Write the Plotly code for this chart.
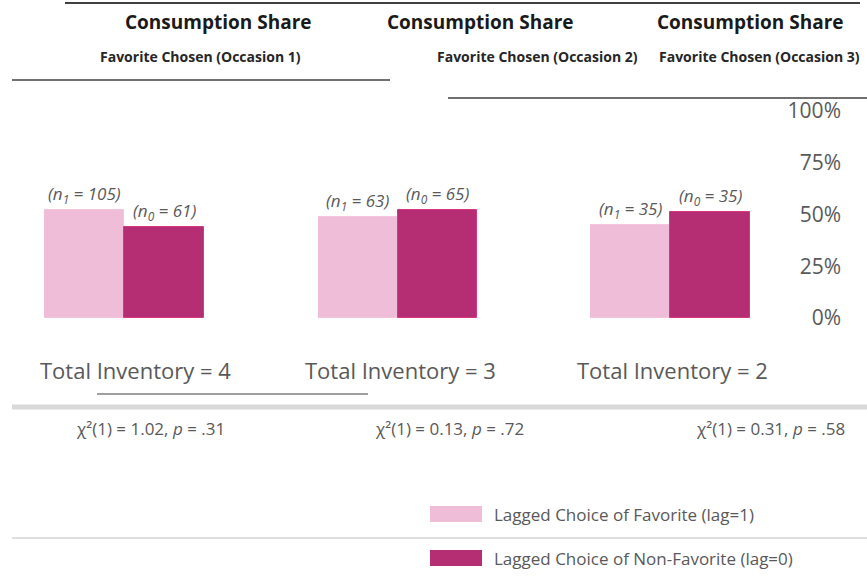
import plotly.graph_objects as go

# ---- data ----
panel_titles = ["Consumption Share", "Consumption Share", "Consumption Share"]
panel_subtitles = ["Favorite Chosen (Occasion 1)", "Favorite Chosen (Occasion 2)", "Favorite Chosen (Occasion 3)"]
inventory_labels = ["Total Inventory = 4", "Total Inventory = 3", "Total Inventory = 2"]
test_labels = ["χ²(1) = 1.02, <i>p</i> = .31", "χ²(1) = 0.13, <i>p</i> = .72", "χ²(1) = 0.31, <i>p</i> = .58"]
groups = ["Lag = 1", "Lag = 0"]
share_lag1 = [0.52, 0.49, 0.45]
share_lag0 = [0.44, 0.52, 0.51]
n_lag1 = [105, 63, 35]
n_lag0 = [61, 65, 35]
y_ticks = [0, 0.25, 0.5, 0.75, 1.0]
y_tick_text = ["0%", "25%", "50%", "75%", "100%"]
legend_names = ["Lagged Choice of Favorite (lag=1)", "Lagged Choice of Non-Favorite (lag=0)"]

LIGHT = "#efbdd8"
DARK = "#b52e73"
GREY = "#595959"
FONT = "Open Sans, sans-serif"

W, H = 867, 578
def px(x):
    return x / W
def py(y):
    return 1 - y / H

x_domains = [[px(44), px(204)], [px(318), px(477)], [px(590), px(750)]]
y_domain = [py(318), py(111)]

fig = go.Figure()
ann = []
for i in range(3):
    xa = "x" if i == 0 else f"x{i+1}"
    fig.add_trace(go.Bar(
        x=[groups[0]], y=[share_lag1[i]], xaxis=xa, yaxis="y",
        marker=dict(color=LIGHT, line=dict(color="#f3c6dd", width=1)),
        name=legend_names[0], showlegend=False,
    ))
    fig.add_trace(go.Bar(
        x=[groups[1]], y=[share_lag0[i]], xaxis=xa, yaxis="y",
        marker=dict(color=DARK, line=dict(color="#d8377f", width=1)),
        name=legend_names[1], showlegend=False,
    ))
    ann.append(dict(x=groups[0], y=share_lag1[i], xref=xa, yref="y",
                    text=f"<i>(n<sub>1</sub> = {n_lag1[i]})</i>", showarrow=False,
                    xanchor="center", yanchor="bottom", yshift=1,
                    font=dict(family=FONT, size=17, color=GREY)))
    ann.append(dict(x=groups[1], y=share_lag0[i], xref=xa, yref="y",
                    text=f"<i>(n<sub>0</sub> = {n_lag0[i]})</i>", showarrow=False,
                    xanchor="center", yanchor="bottom", yshift=1,
                    font=dict(family=FONT, size=17, color=GREY)))

layout = dict(
    width=W, height=H, margin=dict(l=0, r=0, t=0, b=0, autoexpand=False),
    paper_bgcolor="white", plot_bgcolor="white",
    barmode="group", bargap=0, bargroupgap=0, showlegend=False,
    font=dict(family=FONT, color=GREY),
    yaxis=dict(domain=y_domain, range=[0, 1], anchor="free", position=px(841), side="left",
               tickvals=y_ticks, ticktext=y_tick_text, showgrid=False, zeroline=False,
               showline=False, ticks="", ticklabelstandoff=0,
               tickfont=dict(family=FONT, size=21, color=GREY)),
)
for i in range(3):
    key = "xaxis" if i == 0 else f"xaxis{i+1}"
    layout[key] = dict(domain=x_domains[i], anchor="y", showticklabels=False, showgrid=False,
                       zeroline=False, showline=False, ticks="", categoryorder="array",
                       categoryarray=groups)
fig.update_layout(**layout)

def note(x, y, text, size, color=GREY, xanchor="center"):
    return dict(x=px(x), y=py(y), xref="paper", yref="paper", showarrow=False,
                xanchor=xanchor, yanchor="middle", text=text,
                font=dict(family=FONT, size=size, color=color))

head_x = [123, 385, 655]
sub_x = [303, 640, 862]
inv_x = [135, 400, 672]
test_x = [150, 450, 770]
for i in range(3):
    ann.append(note(head_x[i], 22, f"<b>{panel_titles[i]}</b>", 19, "#1a1a1a", "left"))
    ann.append(note(sub_x[i], 57, f"<b>{panel_subtitles[i]}</b>", 14, "#262626", "right"))
    ann.append(note(inv_x[i], 370, inventory_labels[i], 22))
    ann.append(note(test_x[i], 428, test_labels[i], 17))

# legend (custom swatches + labels)
leg_y = [514, 558]
leg_colors = [LIGHT, DARK]
shapes = []
for j in range(2):
    shapes.append(dict(type="rect", xref="paper", yref="paper", x0=px(430), x1=px(482),
                       y0=py(leg_y[j] + 8), y1=py(leg_y[j] - 8), fillcolor=leg_colors[j],
                       line=dict(width=0)))
    ann.append(note(492, leg_y[j], legend_names[j], 17, GREY, "left"))
fig.update_layout(annotations=ann)

shapes += [
    dict(type="line", xref="paper", yref="paper", x0=px(65), x1=px(860), y0=py(3), y1=py(3),
         line=dict(color="#404040", width=2)),
    dict(type="line", xref="paper", yref="paper", x0=px(12), x1=px(390), y0=py(80), y1=py(80),
         line=dict(color="#404040", width=1.5)),
    dict(type="line", xref="paper", yref="paper", x0=px(448), x1=px(867), y0=py(98), y1=py(98),
         line=dict(color="#404040", width=1.5)),
    dict(type="line", xref="paper", yref="paper", x0=px(97), x1=px(368), y0=py(394), y1=py(394),
         line=dict(color="#7f7f7f", width=1.5)),
    dict(type="line", xref="paper", yref="paper", x0=px(12), x1=px(867), y0=py(407), y1=py(407),
         line=dict(color="#d9d9d9", width=5)),
    dict(type="line", xref="paper", yref="paper", x0=px(12), x1=px(867), y0=py(538), y1=py(538),
         line=dict(color="#bfbfbf", width=1)),
]
fig.update_layout(shapes=shapes)

fig.write_html("out.html", config={"displayModeBar": False},
               post_script="document.body.style.margin='0px';")
